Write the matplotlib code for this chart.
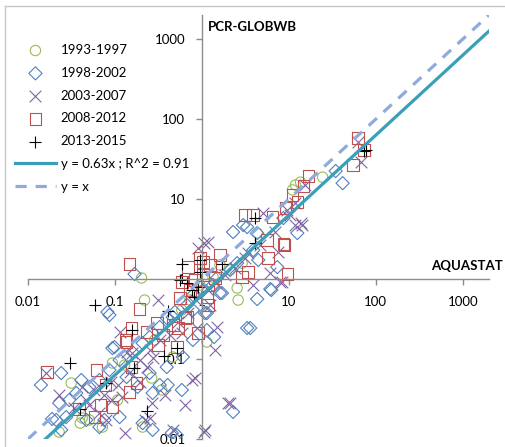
import numpy as np
import matplotlib
matplotlib.use("Agg")
import matplotlib.pyplot as plt
from matplotlib.lines import Line2D
from matplotlib.ticker import FixedLocator, FuncFormatter, NullLocator

plt.rcParams['font.family'] = ['Lato', 'DejaVu Sans']

# AQUASTAT (x) vs PCR-GLOBWB (y)
circ_x = [0.202, 0.219, 0.0314, 0.0228, 0.0717, 0.0421, 0.107, 0.0935, 0.345, 1.14,
          1.34, 2.11, 2.54, 2.61, 4.32, 0.462, 0.0399, 0.0507, 0.264, 0.208,
          2.9, 11.9, 24.4, 13.6, 11.0, 0.587, 0.726, 0.948, 1.61, 0.286, 0.129]
circ_y = [1.03, 0.546, 0.0501, 0.0122, 0.0141, 0.0183, 0.0307, 0.0891, 0.041, 0.163,
          1.06, 1.30, 0.772, 0.546, 3.76, 0.106, 0.0158, 0.0173, 0.0579, 0.0141,
          1.58, 15.0, 18.8, 16.3, 13.0, 0.41, 0.546, 0.841, 1.50, 0.173, 0.0841]

diam_x = [0.168, 0.0819, 0.0141, 0.0241, 0.041, 0.0987, 0.182, 0.271, 0.404, 0.587,
          0.0228, 0.0211, 0.0241, 0.208, 0.271, 0.514, 2.28, 3.31, 1.61, 2.28,
          2.98, 1.14, 0.787, 0.462, 0.0189, 0.0756, 0.0935, 0.327, 0.45, 1.70,
          4.32, 6.28, 1.38, 1.08, 3.31, 12.5, 7.36, 4.44, 34.5, 41.5,
          8.64, 6.11, 3.59, 0.0864, 0.0298, 0.0359, 0.0507, 0.0662, 0.0864, 0.113,
          0.159, 0.208, 0.25, 0.327, 0.394, 0.488, 0.671, 0.787, 1.03, 1.34,
          1.49, 2.11, 2.54, 3.89, 4.32, 0.136, 0.25, 0.394, 0.603, 0.787,
          1.14, 0.0275, 0.0469, 0.0662, 0.113]
diam_y = [1.155, 0.387, 0.0473, 0.0668, 0.0546, 0.141, 0.0447, 0.0376, 0.0473, 0.041,
          0.0282, 0.0173, 0.013, 0.0158, 0.013, 0.0112, 0.0218, 0.244, 0.668, 3.87,
          4.73, 0.376, 0.41, 0.335, 0.0178, 0.0173, 0.137, 0.0473, 0.0119, 0.668,
          0.562, 0.729, 0.188, 0.376, 4.47, 3.76, 1.41, 1.73, 22.4, 15.8,
          5.79, 0.75, 0.244, 0.355, 0.0307, 0.0376, 0.0447, 0.0546, 0.0729, 0.0972,
          0.122, 0.158, 0.188, 0.251, 0.326, 0.387, 0.473, 0.631, 0.729, 0.841,
          1.03, 1.30, 1.58, 2.30, 3.76, 0.0596, 0.0668, 0.0794, 0.106, 0.173,
          0.230, 0.0188, 0.0173, 0.0141, 0.0188]

cross_x = [0.0162, 1.05, 0.31, 0.113, 0.136, 0.271, 0.231, 0.0911, 0.122, 0.192,
           0.264, 0.219, 0.462, 0.766, 0.875, 1.08, 2.11, 0.0469, 0.058, 0.0935,
           0.0662, 0.0798, 0.0421, 0.155, 0.587, 1.49, 2.0, 1.05, 0.83, 3.89,
           1.24, 7.98, 5.07, 11.9, 11.9, 7.56, 6.11, 3.40, 1.17, 0.899,
           61.9, 67.1, 13.6, 9.61, 15.5, 14.3, 8.41, 0.0228, 0.034, 0.0507,
           0.0756, 0.107, 0.147, 0.192, 0.25, 0.327, 0.427, 0.528, 0.689, 0.853,
           1.17, 1.45, 1.85, 2.41, 3.14, 4.69, 6.98, 10.4, 0.373, 0.636,
           0.25, 0.129, 1.41]
cross_y = [0.0668, 2.82, 0.546, 0.218, 0.122, 0.103, 0.0794, 0.0516, 0.0335, 0.0516,
           0.0282, 0.0173, 0.013, 0.0546, 0.244, 0.013, 0.0282, 0.0307, 0.041, 0.0307,
           0.0211, 0.0173, 0.0447, 0.119, 0.211, 0.251, 0.0282, 0.0122, 0.0579, 0.841,
           0.473, 0.917, 6.68, 4.73, 8.91, 2.18, 1.19, 2.11, 2.90, 2.44,
           51.6, 29.0, 5.01, 7.29, 15.0, 4.73, 0.917, 0.0355, 0.0244, 0.0266,
           0.0355, 0.0473, 0.0688, 0.0972, 0.13, 0.173, 0.2, 0.29, 0.376, 0.546,
           0.729, 0.891, 1.12, 1.37, 1.83, 2.66, 3.87, 6.31, 0.0355, 0.0266,
           0.0183, 0.0119, 0.13]

sq_x = [0.147, 0.192, 0.0166, 0.0611, 0.0776, 0.068, 0.0935, 0.058, 0.0389, 0.132,
        0.155, 0.231, 0.31, 0.354, 0.514, 0.636, 0.899, 0.155, 0.177, 0.147,
        0.462, 0.302, 0.528, 0.671, 0.557, 0.689, 0.587, 1.03, 1.24, 1.14,
        1.17, 0.83, 1.17, 0.948, 1.03, 2.9, 3.4, 3.14, 3.89, 6.45,
        5.64, 8.87, 5.79, 9.61, 8.64, 11.0, 9.11, 12.5, 14.7, 16.8,
        54.2, 61.9, 72.7, 0.136, 0.726, 1.41, 1.61]
sq_y = [1.54, 0.422, 0.0688, 0.0729, 0.0473, 0.0266, 0.0251, 0.0188, 0.0237, 0.173,
        0.244, 0.218, 0.15, 0.2, 0.141, 0.326, 0.211, 0.0794, 0.0501, 0.0387,
        0.266, 0.282, 0.244, 0.335, 0.579, 1.41, 0.917, 1.63, 1.5, 0.596,
        0.473, 0.97, 0.841, 1.83, 1.12, 1.06, 1.22, 6.31, 6.31, 5.96,
        3.07, 2.66, 1.83, 1.15, 2.74, 11.2, 7.72, 9.17, 14.5, 19.4,
        26.6, 57.9, 41.0, 0.163, 0.729, 1.03, 2.0]

plus_x = [0.0596, 0.0306, 0.404, 0.159, 0.514, 0.364, 0.164, 0.0798, 0.0399, 0.231,
          0.587, 0.948, 1.70, 0.557, 0.766, 0.899, 0.809, 4.10, 4.10, 72.7,
          78.0, 0.95, 0.67]
plus_y = [0.473, 0.0891, 0.398, 0.230, 0.137, 0.109, 0.0772, 0.0501, 0.0237, 0.0224,
          1.54, 1.73, 1.54, 0.972, 0.729, 0.794, 0.596, 2.82, 5.79, 39.8,
          41.0, 1.22, 0.89]

slope = 0.63
ticks = [0.01, 0.1, 1, 10, 100, 1000]

fig = plt.figure(figsize=(5.06, 4.47), dpi=100)
ax = fig.add_axes([28 / 506, 8 / 447, 461 / 506, 424 / 447])
ax.set_xscale('log')
ax.set_yscale('log')
ax.set_xlim(0.01, 2000)
ax.set_ylim(0.01, 2000)

ax.scatter(circ_x, circ_y, s=55, marker='o', facecolors='none', edgecolors='#9BBB59', linewidths=0.8, label='1993-1997', zorder=2)
ax.scatter(diam_x, diam_y, s=45, marker='D', facecolors='none', edgecolors='#4F81BD', linewidths=0.8, label='1998-2002', zorder=2)
ax.scatter(cross_x, cross_y, s=70, marker='x', color='#8064A2', linewidths=0.8, label='2003-2007', zorder=2)
ax.scatter(sq_x, sq_y, s=70, marker='s', facecolors='none', edgecolors='#C0504D', linewidths=0.8, label='2008-2012', zorder=2)
ax.scatter(plus_x, plus_y, s=80, marker='+', color='black', linewidths=0.8, label='2013-2015', zorder=2)

xs = np.array([0.01, 2000])
ax.plot(xs, slope * xs, color='#3A9FB8', lw=2.3, label='y = 0.63x ; R^2 = 0.91', zorder=3)
ax.plot(xs, xs, color='#8FAADC', lw=2.3, ls=(0, (3.5, 2.8)), label='y = x', zorder=3)

# axes cross at (1, 1)
for side in ['top', 'right']:
    ax.spines[side].set_visible(False)
ax.spines['left'].set_position(('data', 1))
ax.spines['bottom'].set_position(('data', 1))
for side in ['left', 'bottom']:
    ax.spines[side].set_color('#8C8C8C')
    ax.spines[side].set_linewidth(1.0)

fmt = FuncFormatter(lambda v, p: '%g' % v)
for axis in [ax.xaxis, ax.yaxis]:
    axis.set_major_locator(FixedLocator(ticks))
    axis.set_minor_locator(NullLocator())
    axis.set_major_formatter(fmt)
ax.tick_params(axis='both', direction='out', length=4, width=1, color='#8C8C8C',
               labelsize=9.5, labelcolor='black', pad=8)

fig.text(208 / 506, 1 - 27 / 447, 'PCR-GLOBWB', fontsize=9.5, fontweight='bold', va='center')
fig.text(503 / 506, 1 - 266 / 447, 'AQUASTAT', fontsize=9.5, fontweight='bold', ha='right', va='center')

ax.legend(loc='upper left', bbox_to_anchor=(15 / 506, 1 - 44 / 447), bbox_transform=fig.transFigure,
          frameon=False, fontsize=9.5, handlelength=3.1, handletextpad=0.35, labelspacing=0.82,
          borderpad=0, borderaxespad=0, scatterpoints=1)

# chart border (top and left edges only show)
fig.add_artist(Line2D([5 / 506, 1], [1 - 6 / 447, 1 - 6 / 447], transform=fig.transFigure, color='#C8C8C8', lw=1))
fig.add_artist(Line2D([5 / 506, 5 / 506], [0, 1 - 6 / 447], transform=fig.transFigure, color='#C8C8C8', lw=1))

fig.savefig('out.png', dpi=100)
